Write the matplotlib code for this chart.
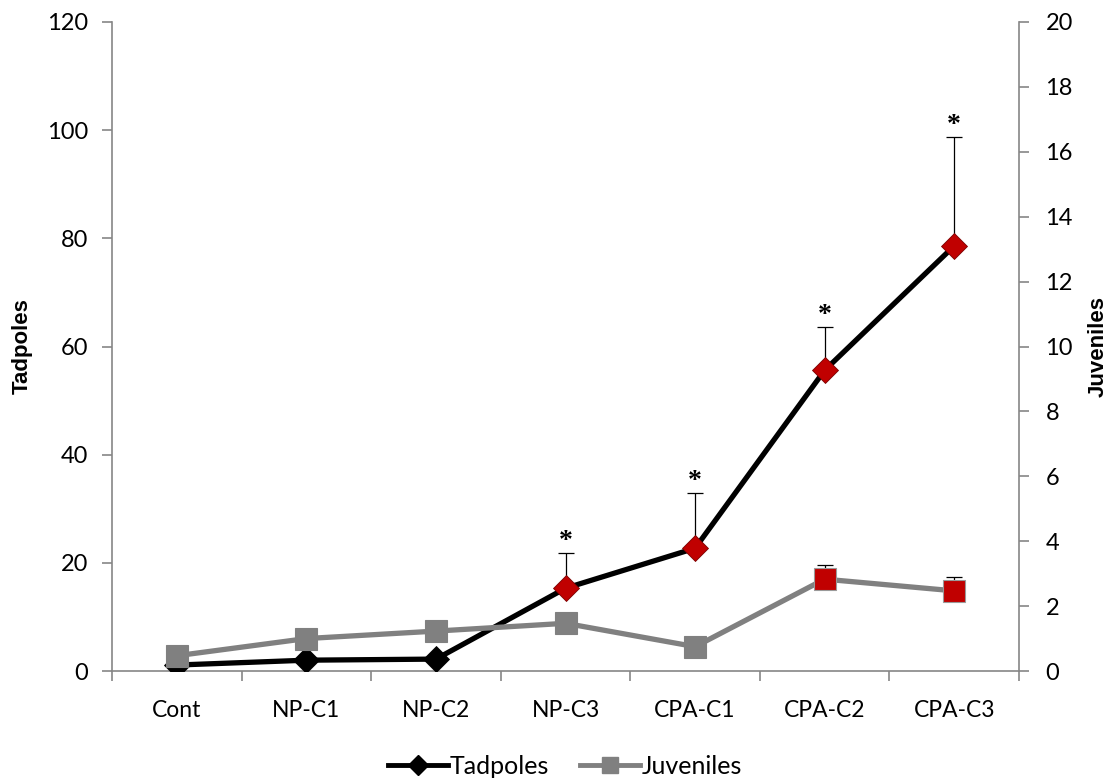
import matplotlib
matplotlib.use("Agg")
import matplotlib.pyplot as plt
from matplotlib.lines import Line2D
import numpy as np

categories = ["Cont", "NP-C1", "NP-C2", "NP-C3", "CPA-C1", "CPA-C2", "CPA-C3"]
tadpoles = [1.1, 2.0, 2.2, 15.3, 22.7, 55.6, 78.6]
tadpoles_err = [0, 0, 0, 6.5, 10.3, 8.0, 20.2]
tadpoles_sig = [False, False, False, True, True, True, True]
juveniles = [0.47, 1.0, 1.23, 1.47, 0.75, 2.83, 2.47]
juveniles_err = [0, 0, 0, 0, 0, 0.44, 0.43]
juveniles_red = [False, False, False, False, False, True, True]
left_ticks = [0, 20, 40, 60, 80, 100, 120]
right_ticks = [0, 2, 4, 6, 8, 10, 12, 14, 16, 18, 20]

RED = "#C00000"
BLACK = "#000000"
GRAY = "#808080"
SPINE = "#868686"
TICKFONT = "Lato"

fig = plt.figure(figsize=(11.14, 7.82), dpi=100)
ax = fig.add_axes([112/1114, 1-671/782, (1019-112)/1114, (671-22)/782])
ax2 = ax.twinx()

x = np.arange(len(categories))

# Tadpoles
ax.plot(x, tadpoles, color=BLACK, lw=3.8, zorder=2, solid_capstyle="round")
for xi, v, e, s in zip(x, tadpoles, tadpoles_err, tadpoles_sig):
    if e > 0:
        ax.errorbar([xi], [v], yerr=[[0], [e]], fmt="none", ecolor="black",
                    elinewidth=0.9, capsize=6, capthick=0.9, zorder=1)
    ax.plot([xi], [v], marker="D", ms=13.5, color=RED if s else BLACK,
            mec="#7a0000" if s else BLACK, mew=0.6, zorder=3)
    if s:
        ax.annotate("*", (xi, v + e), xytext=(0, -1), textcoords="offset points",
                    ha="center", va="bottom", fontsize=20, fontweight="bold",
                    family="Liberation Serif")

# Juveniles
ax2.plot(x, juveniles, color=GRAY, lw=3.8, zorder=2)
for xi, v, e, r in zip(x, juveniles, juveniles_err, juveniles_red):
    if e > 0:
        ax2.errorbar([xi], [v], yerr=[[0], [e]], fmt="none", ecolor="black",
                     elinewidth=0.9, capsize=6, capthick=0.9, zorder=1)
    ax2.plot([xi], [v], marker="s", ms=15.5, color=RED if r else GRAY,
             mec="#9a9a9a" if r else GRAY, mew=0.8, zorder=3)

ax.set_xlim(-0.5, len(categories) - 0.5)
ax.set_ylim(0, 120)
ax2.set_ylim(0, 20)
ax.set_yticks(left_ticks)
ax2.set_yticks(right_ticks)
ax.set_xticks(x)
ax.set_xticklabels(categories)
ax.set_xticks(np.arange(-0.5, len(categories), 1.0), minor=True)

for a in (ax, ax2):
    for sp in a.spines.values():
        sp.set_color(SPINE)
        sp.set_linewidth(1.2)
    a.spines["top"].set_visible(False)
ax.spines["right"].set_visible(False)
ax2.spines["left"].set_visible(False)
ax2.spines["bottom"].set_visible(False)

ax.tick_params(axis="x", which="major", length=0, pad=21, labelsize=16.5)
ax.tick_params(axis="x", which="minor", length=7, color=SPINE, width=1.2)
ax.tick_params(axis="y", length=7, color=SPINE, width=1.2, labelsize=17, pad=10)
ax2.tick_params(axis="y", length=7, color=SPINE, width=1.2, labelsize=17, pad=12)
for lab in ax.get_xticklabels() + ax.get_yticklabels() + ax2.get_yticklabels():
    lab.set_family(TICKFONT)

ax.set_ylabel("Tadpoles", fontsize=16, fontweight="bold", family="Liberation Sans")
ax2.set_ylabel("Juveniles", fontsize=16, fontweight="bold", family="Liberation Sans",
               rotation=90)
ax.yaxis.set_label_coords(-0.087, 0.5)
ax2.yaxis.set_label_coords(1.076, 0.5)

handles = [Line2D([], [], color=BLACK, lw=3.5, marker="D", ms=10),
           Line2D([], [], color=GRAY, lw=3.5, marker="s", ms=11)]
fig.legend(handles, ["Tadpoles", "Juveniles"], loc="center", bbox_to_anchor=(565/1114, 1-766/782),
           ncol=2, frameon=False, prop={"family": TICKFONT, "size": 18},
           handlelength=2.4, handletextpad=0.1, columnspacing=1.2)

fig.savefig("out.png", dpi=100)
